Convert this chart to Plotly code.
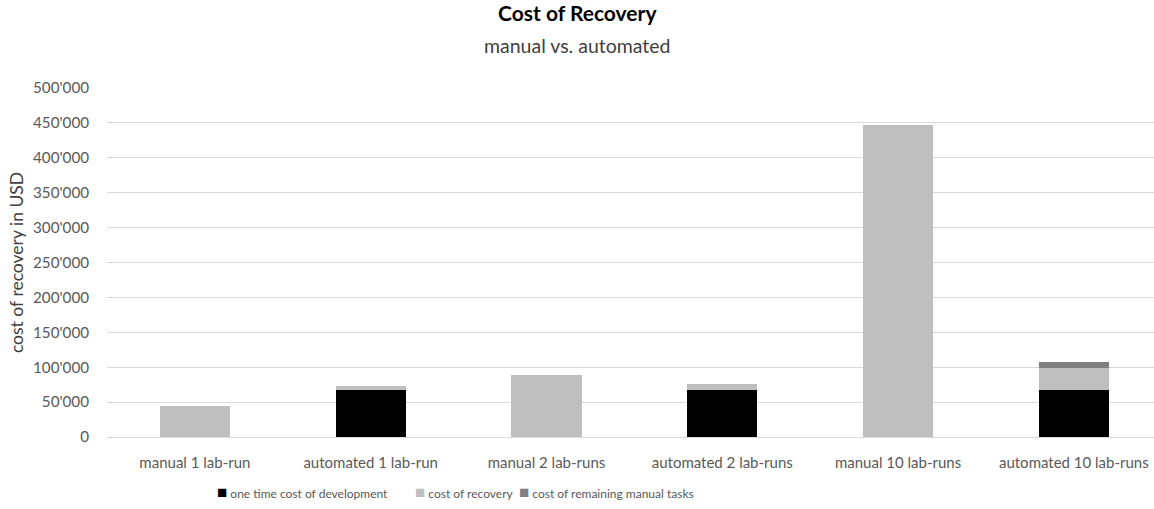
import plotly.graph_objects as go

categories = [
    "manual 1 lab-run", "automated 1 lab-run",
    "manual 2 lab-runs", "automated 2 lab-runs",
    "manual 10 lab-runs", "automated 10 lab-runs",
]
dev_cost = [0, 67700, 0, 67700, 0, 67700]
recovery_cost = [44750, 4700, 89500, 8600, 447500, 31500]
remaining_cost = [0, 0, 0, 0, 0, 8200]

series = [
    ("one time cost of development", dev_cost, "#000000"),
    ("cost of recovery", recovery_cost, "#bfbfbf"),
    ("cost of remaining manual tasks", remaining_cost, "#808080"),
]
# left edge (px) of each legend entry
legend_x = [215, 413, 517]

FONT = "Lato, Calibri, Carlito, sans-serif"
TXT = "#595959"
W, H = 1154, 509
L, T, B = 107, 88, 72

fig = go.Figure()
for name, vals, col in series:
    fig.add_trace(go.Bar(
        x=categories, y=vals, name=name,
        marker=dict(color=col, line=dict(width=0)),
    ))

fig.update_layout(
    barmode="stack",
    bargap=0.6,
    width=W, height=H,
    autosize=False,
    margin=dict(l=L, r=0, t=T, b=B, autoexpand=False),
    paper_bgcolor="white",
    plot_bgcolor="white",
    separators=".'",
    font=dict(family=FONT, size=13, color=TXT),
    showlegend=False,
    xaxis=dict(
        range=[-0.5, 5.456],
        showgrid=False, showline=True, linecolor="#d9d9d9", linewidth=1,
        ticks="", ticklabelstandoff=12,
        tickfont=dict(family=FONT, size=15, color=TXT),
    ),
    yaxis=dict(
        range=[0, 500000], dtick=50000, tickformat=",d",
        showgrid=True, gridcolor="#d9d9d9", gridwidth=1,
        zeroline=False, showline=False, ticks="",
        ticklabelstandoff=17,
        tickfont=dict(family=FONT, size=15.2, color=TXT),
        title=dict(text="cost of recovery in USD", standoff=4,
                   font=dict(family=FONT, size=17.5, color="#404040")),
    ),
)

cx = (577 - L) / (W - L)
fig.add_annotation(
    text="<b>Cost of Recovery</b>", xref="paper", yref="paper",
    x=cx, y=1, yshift=76, xanchor="center", yanchor="middle",
    showarrow=False, font=dict(family=FONT, size=21, color="#000000"),
)
fig.add_annotation(
    text="manual vs. automated", xref="paper", yref="paper",
    x=cx, y=1, yshift=43, xanchor="center", yanchor="middle",
    showarrow=False, font=dict(family=FONT, size=19.5, color="#404040"),
)

# legend row drawn as text entries with coloured squares
for (name, _, col), lx in zip(series, legend_x):
    fig.add_annotation(
        text=f'<span style="color:{col};font-size:17px">■</span> {name}',
        xref="paper", yref="paper",
        x=(lx - L) / (W - L), y=-(492 - (H - B)) / (H - T - B),
        xanchor="left", yanchor="middle", showarrow=False,
        font=dict(family=FONT, size=12, color=TXT),
    )

fig.write_html("out.html")
